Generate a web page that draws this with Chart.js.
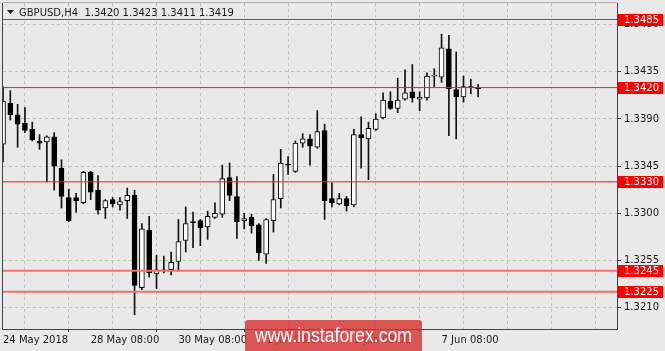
<!DOCTYPE html>
<html><head><meta charset="utf-8">
<script src="https://cdn.jsdelivr.net/npm/chart.js@4.4.0/dist/chart.umd.min.js"></script>
<style>html,body{margin:0;padding:0;background:#e9e9e9;overflow:hidden}canvas{display:block}</style>
</head><body>
<canvas id="c" width="665" height="351"></canvas>
<script>
// ---- data (GBPUSD, H4) ----
const symbolName = 'GBPUSD,H4';
const opens  = [1.3366,1.3405,1.3394,1.3386,1.3380,1.3369,1.3368,1.3373,1.3343,1.3315,
                1.3315,1.3310,1.3339,1.3322,1.3305,1.3313,1.3308,1.3312,1.3317,1.3229,
                1.3284,1.3242,1.3245,1.3246,1.3254,1.3274,1.3291,1.3293,1.3287,1.3296,
                1.3299,1.3334,1.3316,1.3293,1.3296,1.3289,1.3261,1.3293,1.3314,1.3346,
                1.3340,1.3367,1.3371,1.3363,1.3379,1.3314,1.3309,1.3314,1.3308,1.3375,
                1.3371,1.3380,1.3391,1.3407,1.3400,1.3409,1.3416,1.3409,1.3410,1.3431,
                1.3430,1.3457,1.3418,1.3411,1.3421,1.3420];
const highs  = [1.3421,1.3417,1.3404,1.3401,1.3387,1.3375,1.3374,1.3377,1.3351,1.3323,
                1.3319,1.3340,1.3340,1.3336,1.3313,1.3315,1.3315,1.3324,1.3322,1.3290,
                1.3297,1.3260,1.3259,1.3263,1.3294,1.3306,1.3301,1.3294,1.3302,1.3310,
                1.3346,1.3348,1.3335,1.3300,1.3299,1.3290,1.3295,1.3337,1.3361,1.3354,
                1.3369,1.3376,1.3375,1.3398,1.3385,1.3329,1.3319,1.3316,1.3380,1.3392,
                1.3387,1.3395,1.3415,1.3416,1.3429,1.3437,1.3442,1.3416,1.3434,1.3438,
                1.3471,1.3470,1.3454,1.3431,1.3428,1.3423];
const lows   = [1.3349,1.3389,1.3363,1.3377,1.3369,1.3361,1.3330,1.3322,1.3305,1.3292,
                1.3301,1.3309,1.3313,1.3299,1.3295,1.3306,1.3303,1.3295,1.3203,1.3227,
                1.3239,1.3228,1.3243,1.3241,1.3245,1.3263,1.3267,1.3269,1.3275,1.3295,
                1.3296,1.3312,1.3276,1.3285,1.3281,1.3255,1.3252,1.3282,1.3305,1.3337,
                1.3339,1.3363,1.3346,1.3362,1.3294,1.3306,1.3308,1.3302,1.3306,1.3343,
                1.3332,1.3379,1.3390,1.3399,1.3396,1.3408,1.3406,1.3398,1.3408,1.3421,
                1.3425,1.3374,1.3371,1.3406,1.3414,1.3411];
const closes = [1.3407,1.3394,1.3385,1.3379,1.3370,1.3367,1.3373,1.3345,1.3316,1.3293,
                1.3312,1.3339,1.3320,1.3303,1.3312,1.3309,1.3311,1.3317,1.3231,1.3285,
                1.3243,1.3246,1.3246,1.3253,1.3273,1.3290,1.3291,1.3286,1.3297,1.3300,
                1.3333,1.3317,1.3292,1.3295,1.3288,1.3262,1.3294,1.3313,1.3348,1.3346,
                1.3367,1.3371,1.3364,1.3378,1.3312,1.3310,1.3314,1.3307,1.3375,1.3372,
                1.3381,1.3390,1.3408,1.3400,1.3408,1.3415,1.3410,1.3411,1.3431,1.3432,
                1.3458,1.3419,1.3411,1.3421,1.3420,1.3419];
const timeLabelBars  = [0, 12, 24, 36, 48, 60];
const timeLabelTexts = ['24 May 2018', '28 May 08:00', '30 May 08:00', '1 Jun 08:00', '5 Jun 08:00', '7 Jun 08:00'];
const priceTicks = [1.3210, 1.3255, 1.3300, 1.3345, 1.3390, 1.3435, 1.3480];
const levels = [1.3485, 1.3420, 1.3330, 1.3245, 1.3225];

// ---- axis ranges / styling ----
const X_MIN = 0, X_MAX = 84, GRID_STEP = 6;
const Y_MIN = 1.318943, Y_MAX = 1.350076;
const levelStyle = [
  {color:'#ff1a1a', width:1}, {color:'#ff1a1a', width:1}, {color:'#ff1a1a', width:1},
  {color:'#f07070', width:2}, {color:'#f07070', width:2}
];
const FONT = {family:'DejaVu Sans', size:10};

const gridBars = [];
for (let v = X_MIN; v < X_MAX; v += GRID_STEP) gridBars.push(v);

const bodies = opens.map((o, i) => ({x: i, y: [Math.min(o, closes[i]), Math.max(o, closes[i])]}));
const wicks = highs.map((h, i) => ({x: i, y: [lows[i], h]}));

const levelSets = levels.map((lv, k) => ({
  type: 'line', data: [{x: X_MIN, y: lv}, {x: X_MAX, y: lv}],
  borderColor: levelStyle[k].color, borderWidth: levelStyle[k].width,
  pointRadius: 0, order: 0, clip: 0
}));

const bgPlugin = {
  id: 'bg',
  beforeDraw(chart) {
    const c = chart.ctx;
    c.save(); c.fillStyle = '#e9e9e9'; c.fillRect(0, 0, chart.width, chart.height); c.restore();
  }
};

const decoPlugin = {
  id: 'deco',
  afterDraw(chart) {
    const c = chart.ctx, a = chart.chartArea, ys = chart.scales.y;
    c.save();
    // frame
    c.strokeStyle = '#444'; c.lineWidth = 1;
    c.beginPath();
    c.moveTo(Math.floor(a.left) - 0.5, a.top); c.lineTo(Math.floor(a.left) - 0.5, a.bottom + 0.5);
    c.lineTo(Math.round(a.right) + 0.5, a.bottom + 0.5); c.lineTo(Math.round(a.right) + 0.5, a.top);
    c.stroke();
    c.strokeStyle = '#b0b0b0';
    c.beginPath(); c.moveTo(a.left, a.top - 0.5); c.lineTo(a.right, a.top - 0.5); c.stroke();

    // title
    c.fillStyle = '#1a1a1a';
    c.beginPath(); c.moveTo(7, 10); c.lineTo(14, 10); c.lineTo(10.5, 14); c.closePath(); c.fill();
    c.font = '10px "DejaVu Sans"'; c.textBaseline = 'alphabetic'; c.textAlign = 'left';
    const n = closes.length - 1;
    const title = symbolName + '  ' + [opens[n], highs[n], lows[n], closes[n]].map(v => v.toFixed(4)).join(' ');
    c.fillText(title, 19, 16);

    // level labels on price axis
    levels.forEach(lv => {
      const py = Math.round(ys.getPixelForValue(lv));
      c.fillStyle = '#ff0000';
      c.fillRect(Math.round(a.right) + 1, py - 6, 45, 12);
      c.fillStyle = '#ffffff';
      c.textBaseline = 'middle';
      c.fillText(lv.toFixed(4), 624, py + 0.5);
    });

    // watermark
    const wx = 245, wy = 320, ww = 177, wh = 34, r = 3;
    c.fillStyle = 'rgba(216,52,52,0.82)';
    c.beginPath();
    c.moveTo(wx + r, wy); c.lineTo(wx + ww - r, wy); c.quadraticCurveTo(wx + ww, wy, wx + ww, wy + r);
    c.lineTo(wx + ww, wy + wh); c.lineTo(wx, wy + wh); c.lineTo(wx, wy + r); c.quadraticCurveTo(wx, wy, wx + r, wy);
    c.closePath(); c.fill();
    const wm = 'www.instaforex.com';
    c.font = '20px "Liberation Sans"';
    c.fillStyle = '#ffffff'; c.textBaseline = 'alphabetic';
    const tw = c.measureText(wm).width;
    c.translate(255, 341.5); c.scale(157 / tw, 1); c.fillText(wm, 0, 0);
    c.restore();
  }
};

new Chart(document.getElementById('c'), {
  type: 'bar',
  data: {
    datasets: [
      {label: 'body', data: bodies, barThickness: 5, grouped: false, minBarLength: 1,
       backgroundColor: ctx => closes[ctx.dataIndex] > opens[ctx.dataIndex] ? '#ffffff' : '#000000',
       borderColor: '#000000', borderWidth: 1, borderSkipped: false, order: 1, clip: 0},
      {label: 'wick', data: wicks, barThickness: 1, grouped: false,
       backgroundColor: '#111111', borderWidth: 0, order: 2, clip: 0},
      ...levelSets
    ]
  },
  options: {
    responsive: false, animation: false, devicePixelRatio: 1, events: [],
    layout: {padding: {left: 3, top: 3, right: 0, bottom: 0}},
    plugins: {legend: {display: false}, tooltip: {enabled: false}, title: {display: false}},
    scales: {
      x: {
        type: 'linear', min: X_MIN, max: X_MAX, offset: false,
        afterBuildTicks: s => { s.ticks = gridBars.map(v => ({value: v})); },
        afterFit: s => { s.height = 22; s.paddingLeft = 0; s.paddingRight = 0; },
        grid: {color: '#c2c2c2', lineWidth: 1, drawTicks: true, tickLength: 3,
               tickColor: ctx => (ctx.tick && timeLabelBars.includes(ctx.tick.value)) ? '#333' : 'rgba(0,0,0,0)',
               tickBorderDash: []},
        border: {display: false, dash: [3, 3]},
        ticks: {autoSkip: false, maxRotation: 0, minRotation: 0, align: 'start', padding: 2,
                color: '#1a1a1a', font: FONT,
                callback: v => { const k = timeLabelBars.indexOf(v); return k >= 0 ? timeLabelTexts[k] : ''; }}
      },
      y: {
        type: 'linear', position: 'right', min: Y_MIN, max: Y_MAX,
        afterBuildTicks: s => { s.ticks = priceTicks.map(v => ({value: v})); },
        afterFit: s => { s.width = 48; s.paddingTop = 0; s.paddingBottom = 0; },
        grid: {color: '#c2c2c2', lineWidth: 1, drawTicks: true, tickLength: 4, tickColor: '#333', tickBorderDash: []},
        border: {display: false, dash: [3, 3]},
        ticks: {padding: 3, color: '#1a1a1a', font: FONT, callback: v => Number(v).toFixed(4)}
      }
    }
  },
  plugins: [bgPlugin, decoPlugin]
});
</script>
</body></html>
